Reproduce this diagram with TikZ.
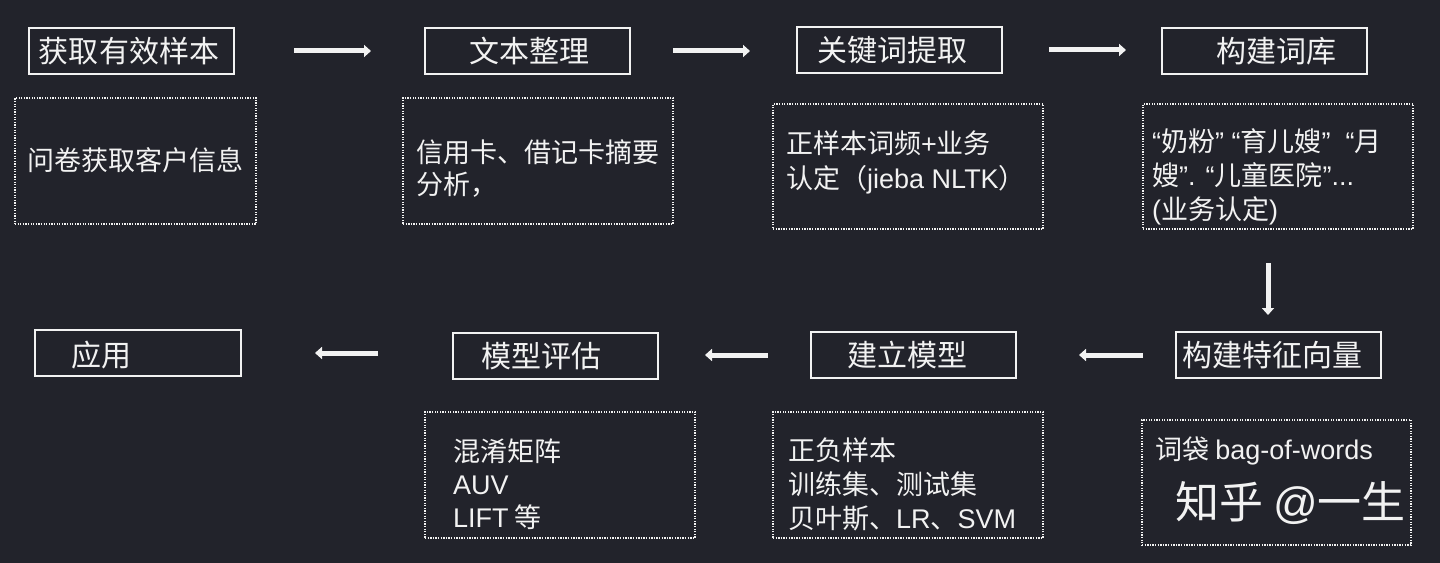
\documentclass[tikz,border=0pt]{standalone}
\usepackage{fontspec}
\setmainfont{Noto Sans CJK SC}
\newfontfamily\lat{Liberation Sans}
\usetikzlibrary{arrows.meta}
\definecolor{bg}{RGB}{34,35,43}
\definecolor{fg}{RGB}{242,242,242}
\begin{document}
\begin{tikzpicture}[x=1bp,y=-1bp,
  titlebox/.style={draw=fg, line width=2bp, inner sep=0pt, minimum width=205bp, minimum height=46bp},
  descbox/.style={draw=fg, line width=1.6bp, dash pattern=on 1.3bp off 1.3bp, inner sep=0pt},
  ttl/.style={text=fg, font=\fontsize{30bp}{36bp}\selectfont, inner sep=0pt},
  dsc/.style={text=fg, font=\fontsize{27bp}{34bp}\selectfont, inner sep=0pt, align=left, anchor=west},
  flow/.style={draw=fg, line width=5bp, -{Triangle[width=12bp,length=7bp]}}]
\fill[bg] (0,0) rectangle (1440,563);
\useasboundingbox (0,0) rectangle (1440,563);

% title boxes
\node[titlebox] (t1) at (131.5,51) {};
\node[titlebox] (t2) at (527.5,51) {};
\node[titlebox] (t3) at (899,50) {};
\node[titlebox] (t4) at (1264,51) {};
\node[titlebox] (t5) at (1278,355) {};
\node[titlebox] (t6) at (913.5,355) {};
\node[titlebox] (t7) at (555,356) {};
\node[titlebox] (t8) at (138,352.5) {};

\node[ttl] (l1) at (129,51) {获取有效样本};
\node[ttl] (l2) at (529,51) {文本整理};
\node[ttl] (l3) at (892,50) {关键词提取};
\node[ttl] (l4) at (1276,51) {构建词库};
\node[ttl] (l5) at (1272,355) {构建特征向量};
\node[ttl] (l6) at (907,355) {建立模型};
\node[ttl] (l7) at (541,356) {模型评估};
\node[ttl] (l8) at (101,355) {应用};

% description boxes
\node[descbox, minimum width=241bp, minimum height=126bp] (d1) at (135.5,161) {};
\node[descbox, minimum width=270bp, minimum height=126bp] (d2) at (538,161) {};
\node[descbox, minimum width=270bp, minimum height=125bp] (d3) at (908,166.5) {};
\node[descbox, minimum width=270bp, minimum height=125bp] (d4) at (1278,166.5) {};
\node[descbox, minimum width=270bp, minimum height=126bp] (d5) at (560,475) {};
\node[descbox, minimum width=270bp, minimum height=126bp] (d6) at (908,475) {};
\node[descbox, minimum width=269bp, minimum height=125bp] (d7) at (1276.5,482.5) {};

\node[dsc] (x1) at (27,160) {问卷获取客户信息};
\node[dsc, font=\fontsize{27bp}{32bp}\selectfont] (x2) at (416,168) {信用卡、借记卡摘要\\分析，};
\node[dsc, font=\fontsize{27bp}{35bp}\selectfont] (x3) at (786,162.5) {正样本词频{\lat +}业务\\认定（{\lat jieba NLTK}）};
\node[dsc] (x4) at (1152,177) {{\lat “}奶粉{\lat ” “}育儿嫂{\lat ”\ \ “}月\\嫂{\lat ”. “}儿童医院{\lat ”...}\\{\lat (}业务认定{\lat )}};
\node[dsc, font=\fontsize{27bp}{33bp}\selectfont] (x5) at (453,484) {混淆矩阵\\{\lat AUV}\\{\lat LIFT} 等};
\node[dsc] (x6) at (788,484) {正负样本\\训练集、测试集\\贝叶斯、{\lat LR}、{\lat SVM}};
\node[dsc] (x7) at (1155,451) {词袋 {\lat bag-of-words}};
\node[dsc, font=\fontsize{44bp}{50bp}\selectfont] (wm) at (1175,503) {知乎 {\lat @}一生};

% arrows
\coordinate (a1s) at (294,51);  \coordinate (a1e) at (371,51);
\coordinate (a2s) at (673,51);  \coordinate (a2e) at (750,51);
\coordinate (a3s) at (1049,50); \coordinate (a3e) at (1126,50);
\coordinate (a4s) at (1268,263); \coordinate (a4e) at (1268,315);
\coordinate (a5s) at (1143,355); \coordinate (a5e) at (1079,355);
\coordinate (a6s) at (768,355);  \coordinate (a6e) at (705,355);
\coordinate (a7s) at (378,353);  \coordinate (a7e) at (315,353);
\draw[flow] (a1s) -- (a1e);
\draw[flow] (a2s) -- (a2e);
\draw[flow] (a3s) -- (a3e);
\draw[flow] (a4s) -- (a4e);
\draw[flow] (a5s) -- (a5e);
\draw[flow] (a6s) -- (a6e);
\draw[flow] (a7s) -- (a7e);
\end{tikzpicture}
\end{document}
